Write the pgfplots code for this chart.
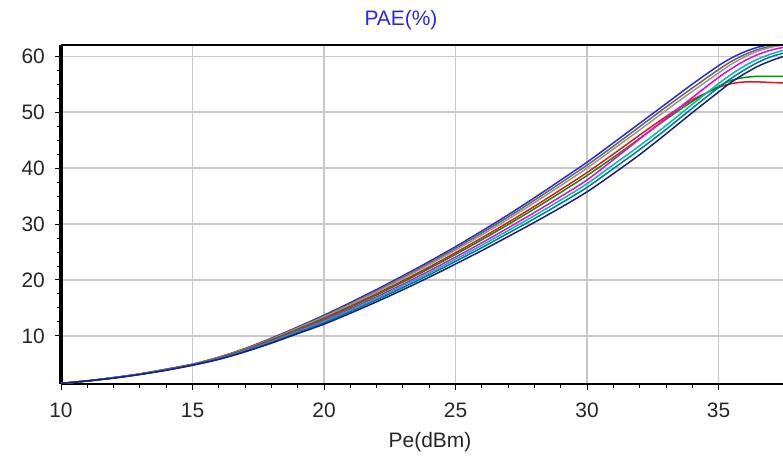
\documentclass[border=0pt]{standalone}
\usepackage{pgfplots}
\pgfplotsset{compat=1.18}
\usepackage{fontspec}
\setmainfont{Liberation Sans}
\definecolor{cblue}{RGB}{40,40,235}
\definecolor{colive}{RGB}{110,105,70}
\definecolor{cgray}{RGB}{150,150,150}
\definecolor{cred}{RGB}{235,20,20}
\definecolor{cgreen}{RGB}{0,150,0}
\definecolor{cmag}{RGB}{240,0,240}
\definecolor{ccyan}{RGB}{0,185,185}
\definecolor{cteal}{RGB}{0,125,140}
\definecolor{cnavy}{RGB}{30,30,130}
\begin{document}
\fontsize{21}{25}\selectfont
\begin{tikzpicture}
\useasboundingbox (0,0) rectangle (783bp,456bp);
\begin{axis}[
  at={(61bp,72bp)}, anchor=south west,
  scale only axis, width=722bp, height=339bp,
  xmin=10, xmax=37.45, ymin=1.4, ymax=62,
  axis x line*=bottom, axis y line*=left,
  x axis line style={line width=2.4bp, -},
  y axis line style={line width=3.2bp, -},
  xtick={10,15,...,35}, ytick={10,20,...,60},
  minor x tick num=4, minor y tick num=3,
  tick align=outside, major tick length=6bp, minor tick length=4bp,
  every tick/.style={black, line width=0.9bp},
  grid=major, major grid style={black!22, line width=1.3bp},
  /pgf/number format/assume math mode=true,
  ticklabel style={font=\fontsize{21}{25}\selectfont, text=black!85},
  xticklabel style={yshift=-6bp},
  yticklabel style={xshift=-3bp},
  every axis plot/.append style={line width=1.5bp, smooth, no marks},
]
\addplot[cblue] coordinates {(10,1.5)(11,1.95)(12,2.55)(13,3.2)(14,4.05)(15,4.95)(16,6.2)(17,7.75)(18,9.6)(19,11.6)(20,13.7)(21,15.95)(22,18.3)(23,20.75)(24,23.3)(25,25.95)(26,28.75)(27,31.65)(28,34.7)(29,37.85)(30,41.05)(31,44.5)(32,48.0)(33,51.5)(34,55.0)(35,58.3)(35.5,59.7)(36,60.8)(36.5,61.6)(37,62.1)(37.5,62.4)};
\addplot[colive] coordinates {(10,1.5)(11,1.95)(12,2.54)(13,3.19)(14,4.03)(15,4.93)(16,6.16)(17,7.69)(18,9.51)(19,11.48)(20,13.54)(21,15.76)(22,18.08)(23,20.5)(24,23.02)(25,25.64)(26,28.4)(27,31.26)(28,34.26)(29,37.36)(30,40.52)(31,43.9)(32,47.4)(33,50.9)(34,54.3)(35,57.6)(35.5,59.1)(36,60.3)(36.5,61.2)(37,61.8)(37.5,62.2)};
\addplot[cgray] coordinates {(10,1.5)(11,1.95)(12,2.53)(13,3.18)(14,4.01)(15,4.91)(16,6.12)(17,7.63)(18,9.42)(19,11.36)(20,13.38)(21,15.57)(22,17.86)(23,20.25)(24,22.74)(25,25.33)(26,28.05)(27,30.87)(28,33.82)(29,36.87)(30,39.99)(31,43.4)(32,46.8)(33,50.3)(34,53.7)(35,57.0)(35.5,58.6)(36,59.9)(36.5,60.9)(37,61.6)(37.5,62.0)};
\addplot[cred] coordinates {(10,1.5)(11,1.95)(12,2.52)(13,3.17)(14,3.98)(15,4.88)(16,6.06)(17,7.54)(18,9.29)(19,11.18)(20,13.14)(21,15.29)(22,17.53)(23,19.88)(24,22.32)(25,24.87)(26,27.53)(27,30.29)(28,33.16)(29,36.14)(30,39.2)(31,42.5)(32,45.9)(33,49.2)(34,52.2)(35,54.4)(35.5,55.1)(36,55.4)(36.5,55.4)(37,55.3)(37.5,55.2)};
\addplot[cgreen] coordinates {(10,1.5)(11,1.95)(12,2.5)(13,3.16)(14,3.96)(15,4.86)(16,6.02)(17,7.48)(18,9.2)(19,11.06)(20,12.98)(21,15.1)(22,17.31)(23,19.63)(24,22.04)(25,24.56)(26,27.18)(27,29.9)(28,32.72)(29,35.65)(30,38.67)(31,41.9)(32,45.3)(33,48.7)(34,51.9)(35,54.6)(35.5,55.7)(36,56.2)(36.5,56.4)(37,56.4)(37.5,56.4)};
\addplot[cmag] coordinates {(10,1.5)(11,1.95)(12,2.49)(13,3.14)(14,3.93)(15,4.83)(16,5.96)(17,7.39)(18,9.06)(19,10.88)(20,12.74)(21,14.81)(22,16.98)(23,19.25)(24,21.62)(25,24.09)(26,26.65)(27,29.31)(28,32.06)(29,34.91)(30,37.87)(31,41.5)(32,45.2)(33,48.9)(34,52.6)(35,56.2)(35.5,57.8)(36,59.2)(36.5,60.3)(37,61.1)(37.5,61.6)};
\addplot[ccyan] coordinates {(10,1.5)(11,1.95)(12,2.48)(13,3.13)(14,3.91)(15,4.81)(16,5.91)(17,7.32)(18,8.95)(19,10.73)(20,12.54)(21,14.57)(22,16.71)(23,18.94)(24,21.27)(25,23.7)(26,26.21)(27,28.82)(28,31.51)(29,34.3)(30,37.21)(31,40.6)(32,44.0)(33,47.6)(34,51.4)(35,55.1)(35.5,56.8)(36,58.3)(36.5,59.5)(37,60.4)(37.5,61.1)};
\addplot[cteal] coordinates {(10,1.5)(11,1.95)(12,2.47)(13,3.12)(14,3.88)(15,4.78)(16,5.86)(17,7.24)(18,8.84)(19,10.58)(20,12.34)(21,14.34)(22,16.43)(23,18.63)(24,20.92)(25,23.32)(26,25.78)(27,28.34)(28,30.96)(29,33.69)(30,36.55)(31,39.9)(32,43.3)(33,46.9)(34,50.7)(35,54.4)(35.5,56.1)(36,57.6)(36.5,58.9)(37,59.9)(37.5,60.6)};
\addplot[cnavy] coordinates {(10,1.5)(11,1.95)(12,2.45)(13,3.1)(14,3.85)(15,4.75)(16,5.8)(17,7.15)(18,8.7)(19,10.4)(20,12.1)(21,14.05)(22,16.1)(23,18.25)(24,20.5)(25,22.85)(26,25.25)(27,27.75)(28,30.3)(29,32.95)(30,35.75)(31,39.0)(32,42.4)(33,46.1)(34,49.9)(35,53.6)(35.5,55.4)(36,56.9)(36.5,58.2)(37,59.2)(37.5,60.0)};
\end{axis}
\draw[line width=2.2bp] (61bp,411bp) -- (783bp,411bp);
\node[text=cblue] at (401bp,436bp) {PAE(\%)};
\node[text=black!85] at (430bp,14bp) {Pe(dBm)};
\end{tikzpicture}
\end{document}
